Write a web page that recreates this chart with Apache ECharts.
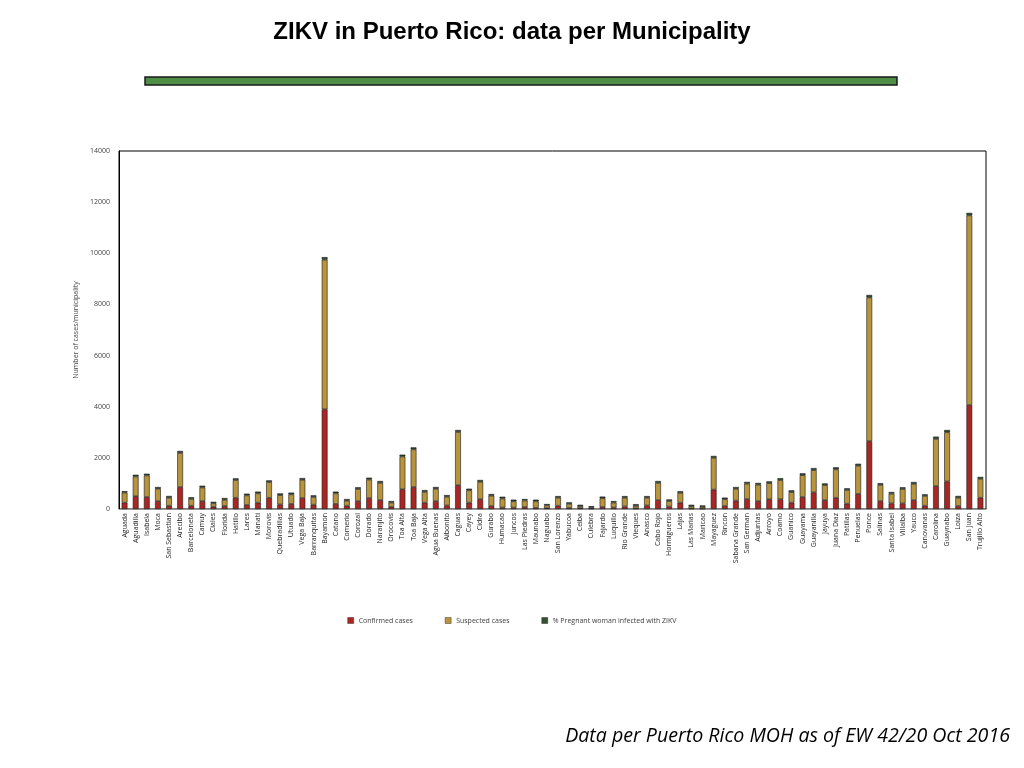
<!DOCTYPE html>
<html>
<head>
<meta charset="utf-8">
<title>ZIKV in Puerto Rico</title>
<script src="https://cdn.jsdelivr.net/npm/echarts@6/dist/echarts.min.js"></script>
<style>
  html, body { margin: 0; padding: 0; background: #fff; }
  #chart { width: 1024px; height: 768px; }
</style>
</head>
<body>
<div id="chart"></div>
<script>
var municipalities = ['Aguada','Aguadilla','Isabela','Moca','San Sebastian','Arecibo','Barceloneta','Camuy','Ciales','Florida',
    'Hatillo','Lares','Manati','Morovis','Quebradillas','Utuado','Vega Baja','Barranquitas','Bayamon','Catano',
    'Comerio','Corozal','Dorado','Naranjito','Orocovis','Toa Alta','Toa Baja','Vega Alta','Agua Buenas','Aibonito',
    'Caguas','Cayey','Cidra','Gurabo','Humacao','Juncos','Las Piedras','Maunabo','Naguabo','San Lorenzo',
    'Yabucoa','Ceiba','Culebra','Fajardo','Luquillo','Rio Grande','Vieques','Anasco','Cabo Rojo','Hormigueros',
    'Lajas','Las Marias','Maricao','Mayaguez','Rincon','Sabana Grande','San German','Adjuntas','Arroyo','Coamo',
    'Guanico','Guayama','Guayanilla','Jayuya','Juana Diaz','Patillas','Penuelas','Ponce','Salinas','Santa Isabel',
    'Villalba','Yauco','Canovanas','Carolina','Guaynabo','Loiza','San Juan','Trujillo Alto'];

var confirmed = [250, 500, 470, 310, 130, 860, 130, 310, 90, 120,
    440, 160, 250, 440, 180, 200, 430, 170, 3900, 200,
    130, 310, 430, 350, 90, 770, 860, 250, 310, 140,
    930, 250, 380, 120, 60, 60, 80, 50, 30, 130,
    50, 30, 20, 80, 60, 100, 20, 140, 350, 100,
    250, 20, 15, 760, 120, 330, 390, 310, 380, 380,
    250, 470, 650, 350, 440, 210, 590, 2650, 310, 220,
    220, 350, 130, 900, 1080, 120, 4070, 440];

var suspected = [390, 770, 840, 480, 310, 1330, 260, 530, 130, 240,
    690, 370, 360, 610, 360, 370, 710, 300, 5850, 410,
    190, 470, 720, 670, 160, 1280, 1470, 420, 480, 340,
    2080, 480, 680, 400, 350, 240, 250, 250, 110, 310,
    150, 80, 40, 340, 190, 340, 100, 300, 670, 210,
    380, 90, 70, 1240, 260, 460, 600, 640, 630, 750,
    410, 850, 870, 580, 1110, 530, 1100, 5620, 630, 380,
    560, 630, 380, 1840, 1920, 320, 7410, 740];

var pregnant = [60, 70, 70, 70, 70, 80, 70, 70, 60, 70,
    70, 70, 70, 70, 70, 70, 70, 65, 100, 70,
    70, 70, 75, 75, 60, 75, 80, 70, 70, 65,
    80, 65, 75, 65, 70, 65, 60, 65, 55, 65,
    60, 55, 50, 65, 60, 65, 70, 65, 75, 65,
    65, 55, 55, 75, 65, 70, 70, 70, 70, 75,
    70, 75, 80, 70, 80, 70, 80, 100, 70, 65,
    70, 75, 65, 90, 90, 70, 100, 75];

var yTicks = { min: 0, max: 14000, interval: 2000 };

var chart = echarts.init(document.getElementById('chart'));

var barBorder = { borderColor: '#1a1a1a', borderWidth: 0.6 };

var option = {
    backgroundColor: '#ffffff',
    animation: false,
    title: {
        text: 'ZIKV in Puerto Rico: data per Municipality',
        left: 'center',
        top: 15,
        textStyle: {
            fontFamily: 'Liberation Sans',
            fontWeight: 'bold',
            fontSize: 24,
            color: '#000'
        }
    },
    graphic: [
        {
            type: 'rect',
            shape: { x: 145, y: 77, width: 752, height: 8 },
            style: { fill: '#4e8e45', stroke: '#1a1a1a', lineWidth: 1.5 }
        },
        {
            type: 'text',
            right: 14,
            top: 726,
            style: {
                text: 'Data per Puerto Rico MOH as of EW 42/20 Oct 2016',
                fontFamily: 'Open Sans',
                fontStyle: 'italic',
                fontSize: 19.6,
                fill: '#000'
            }
        }
    ],
    legend: {
        bottom: 139,
        left: 'center',
        itemWidth: 6,
        itemHeight: 6,
        itemGap: 32,
        icon: 'rect',
        itemStyle: { borderWidth: 0.4 },
        textStyle: { fontSize: 7, color: '#404040', fontFamily: 'Open Sans' },
        data: ['Confirmed cases', 'Suspected cases', '% Pregnant woman infected with ZIKV']
    },
    grid: {
        left: 119,
        right: 38,
        top: 151,
        bottom: 259,
        show: true,
        borderColor: '#000',
        borderWidth: 1,
        containLabel: false
    },
    xAxis: {
        type: 'category',
        data: municipalities,
        axisLine: { lineStyle: { color: '#999' } },
        axisTick: { show: false },
        axisLabel: {
            rotate: 90,
            interval: 0,
            fontSize: 7,
            color: '#222',
            margin: 4,
            fontFamily: 'Open Sans'
        }
    },
    yAxis: {
        type: 'value',
        min: yTicks.min,
        max: yTicks.max,
        interval: yTicks.interval,
        name: 'Number of cases/municipality',
        nameLocation: 'middle',
        nameGap: 33,
        nameTextStyle: { fontSize: 7, color: '#444', fontFamily: 'Open Sans' },
        axisLine: { show: true, lineStyle: { color: '#000' } },
        axisTick: { show: false },
        splitLine: { show: false },
        axisLabel: {
            fontSize: 7,
            color: '#444',
            margin: 9,
            fontFamily: 'Open Sans',
            formatter: function (v) { return String(v); }
        }
    },
    series: [
        {
            name: 'Confirmed cases',
            type: 'bar',
            stack: 'total',
            barWidth: '52%',
            itemStyle: Object.assign({ color: '#aa2623' }, barBorder),
            data: confirmed
        },
        {
            name: 'Suspected cases',
            type: 'bar',
            stack: 'total',
            itemStyle: Object.assign({ color: '#b8943c' }, barBorder),
            data: suspected
        },
        {
            name: '% Pregnant woman infected with ZIKV',
            type: 'bar',
            stack: 'total',
            itemStyle: Object.assign({ color: '#34502f' }, barBorder),
            data: pregnant
        }
    ]
};

chart.setOption(option);
</script>
</body>
</html>
